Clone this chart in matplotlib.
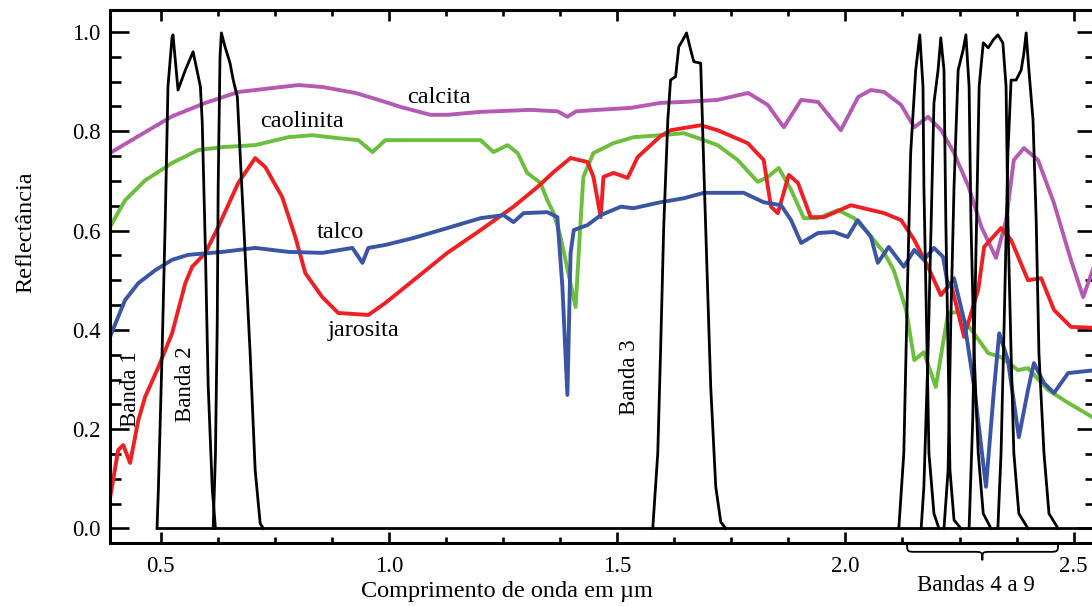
import numpy as np
import matplotlib
matplotlib.use("Agg")
import matplotlib.pyplot as plt
from matplotlib.path import Path
from matplotlib.patches import PathPatch
from matplotlib.ticker import MultipleLocator, AutoMinorLocator, FormatStrFormatter

plt.rcParams['font.family'] = ['Liberation Serif', 'DejaVu Serif']

# spectra (wavelength in um, reflectance)
calcita_x = [0.389, 0.451, 0.525, 0.598, 0.670, 0.745, 0.802, 0.855, 0.927, 0.992, 1.025, 1.091,
             1.128, 1.201, 1.310, 1.370, 1.391, 1.410, 1.457, 1.530, 1.595, 1.646, 1.720, 1.787,
             1.830, 1.865, 1.903, 1.940, 1.990, 2.028, 2.056, 2.085, 2.122, 2.151, 2.181, 2.210,
             2.238, 2.270, 2.298, 2.330, 2.352, 2.369, 2.391, 2.422, 2.457, 2.494, 2.521, 2.549]
calcita_y = [0.756, 0.790, 0.830, 0.857, 0.879, 0.887, 0.893, 0.889, 0.877, 0.859, 0.849, 0.833,
             0.833, 0.839, 0.843, 0.840, 0.829, 0.840, 0.843, 0.847, 0.857, 0.859, 0.863, 0.877,
             0.853, 0.808, 0.863, 0.859, 0.802, 0.869, 0.883, 0.879, 0.853, 0.808, 0.829, 0.802,
             0.756, 0.688, 0.607, 0.545, 0.621, 0.742, 0.766, 0.742, 0.655, 0.541, 0.466, 0.540]

caolinita_x = [0.389, 0.422, 0.466, 0.525, 0.582, 0.635, 0.707, 0.780, 0.832, 0.889, 0.933, 0.964,
               0.992, 1.201, 1.229, 1.260, 1.282, 1.303, 1.332, 1.347, 1.361, 1.376, 1.409, 1.420,
               1.426, 1.448, 1.492, 1.536, 1.595, 1.646, 1.690, 1.720, 1.764, 1.808, 1.830, 1.854,
               1.881, 1.909, 1.940, 1.984, 2.019, 2.050, 2.085, 2.106, 2.133, 2.151, 2.172, 2.198,
               2.225, 2.247, 2.276, 2.313, 2.341, 2.378, 2.400, 2.444, 2.488, 2.549]
caolinita_y = [0.607, 0.661, 0.701, 0.736, 0.762, 0.768, 0.772, 0.788, 0.792, 0.786, 0.782, 0.758,
               0.782, 0.782, 0.758, 0.772, 0.756, 0.716, 0.696, 0.661, 0.635, 0.587, 0.446, 0.621,
               0.708, 0.756, 0.776, 0.788, 0.792, 0.796, 0.782, 0.772, 0.742, 0.698, 0.708, 0.726,
               0.682, 0.625, 0.625, 0.641, 0.625, 0.595, 0.555, 0.520, 0.440, 0.339, 0.355, 0.285,
               0.434, 0.436, 0.400, 0.353, 0.345, 0.319, 0.323, 0.279, 0.253, 0.220]

jarosita_x = [0.389, 0.407, 0.418, 0.433, 0.451, 0.466, 0.495, 0.525, 0.554, 0.569, 0.598, 0.626,
              0.670, 0.707, 0.729, 0.766, 0.795, 0.817, 0.854, 0.889, 0.955, 0.992, 1.054, 1.128,
              1.201, 1.273, 1.326, 1.361, 1.398, 1.435, 1.448, 1.464, 1.470, 1.492, 1.523, 1.545,
              1.595, 1.617, 1.683, 1.720, 1.786, 1.821, 1.837, 1.852, 1.876, 1.896, 1.924, 1.953,
              2.012, 2.085, 2.122, 2.151, 2.181, 2.209, 2.231, 2.260, 2.291, 2.304, 2.341, 2.363,
              2.400, 2.429, 2.457, 2.494, 2.549]
jarosita_y = [0.061, 0.158, 0.168, 0.132, 0.218, 0.265, 0.325, 0.393, 0.494, 0.527, 0.555, 0.607,
              0.696, 0.746, 0.728, 0.668, 0.587, 0.514, 0.466, 0.434, 0.430, 0.454, 0.500, 0.555,
              0.601, 0.648, 0.688, 0.718, 0.746, 0.738, 0.708, 0.627, 0.708, 0.716, 0.706, 0.748,
              0.790, 0.802, 0.812, 0.802, 0.776, 0.742, 0.648, 0.635, 0.712, 0.696, 0.627, 0.627,
              0.651, 0.635, 0.621, 0.581, 0.527, 0.470, 0.494, 0.386, 0.481, 0.567, 0.605, 0.581,
              0.500, 0.504, 0.440, 0.406, 0.404]

talco_x = [0.389, 0.422, 0.451, 0.488, 0.525, 0.560, 0.635, 0.707, 0.780, 0.854, 0.920, 0.942,
           0.955, 0.992, 1.054, 1.128, 1.201, 1.251, 1.273, 1.295, 1.347, 1.369, 1.380, 1.391,
           1.398, 1.405, 1.435, 1.464, 1.508, 1.536, 1.595, 1.646, 1.690, 1.777, 1.821, 1.859,
           1.881, 1.903, 1.940, 1.975, 2.005, 2.027, 2.056, 2.071, 2.095, 2.128, 2.151, 2.172,
           2.194, 2.214, 2.225, 2.238, 2.260, 2.282, 2.308, 2.326, 2.337, 2.356, 2.380, 2.400,
           2.413, 2.435, 2.457, 2.488, 2.549]
talco_y = [0.386, 0.460, 0.494, 0.520, 0.541, 0.551, 0.557, 0.565, 0.557, 0.555, 0.565, 0.535,
           0.565, 0.571, 0.585, 0.605, 0.625, 0.631, 0.617, 0.635, 0.637, 0.627, 0.487, 0.269,
           0.555, 0.601, 0.611, 0.631, 0.648, 0.645, 0.657, 0.665, 0.676, 0.676, 0.657, 0.651,
           0.621, 0.575, 0.595, 0.597, 0.587, 0.621, 0.587, 0.535, 0.567, 0.527, 0.561, 0.541,
           0.565, 0.547, 0.487, 0.504, 0.420, 0.285, 0.084, 0.285, 0.393, 0.339, 0.184, 0.279,
           0.333, 0.293, 0.273, 0.313, 0.319]

# sensor band response curves
band1_x = [0.492, 0.495, 0.503, 0.510, 0.516, 0.525, 0.527, 0.538, 0.554, 0.571, 0.587, 0.591,
           0.598, 0.604, 0.613, 0.620]
band1_y = [0.0, 0.08, 0.35, 0.62, 0.89, 0.99, 0.994, 0.883, 0.923, 0.960, 0.890, 0.82,
           0.56, 0.29, 0.08, 0.0]
band2_x = [0.615, 0.620, 0.624, 0.626, 0.630, 0.633, 0.641, 0.652, 0.659, 0.668, 0.674, 0.685,
           0.696, 0.707, 0.718, 0.725]
band2_y = [0.0, 0.15, 0.42, 0.69, 0.95, 0.998, 0.970, 0.937, 0.903, 0.869, 0.756, 0.555,
           0.353, 0.118, 0.010, 0.0]
band3_x = [1.578, 1.589, 1.595, 1.602, 1.611, 1.617, 1.628, 1.635, 1.644, 1.652, 1.661, 1.668,
           1.683, 1.690, 1.698, 1.705, 1.716, 1.727, 1.738]
band3_y = [0.0, 0.152, 0.353, 0.607, 0.823, 0.903, 0.910, 0.970, 0.984, 0.998, 0.964, 0.940,
           0.937, 0.722, 0.487, 0.285, 0.084, 0.013, 0.0]
band4_x = [2.117, 2.128, 2.136, 2.143, 2.154, 2.163, 2.170, 2.172, 2.179, 2.183, 2.194, 2.205]
band4_y = [0.0, 0.152, 0.487, 0.756, 0.923, 0.994, 0.890, 0.688, 0.353, 0.152, 0.030, 0.0]
band5_x = [2.166, 2.172, 2.181, 2.188, 2.194, 2.203, 2.209, 2.216, 2.220, 2.225, 2.229, 2.238, 2.253]
band5_y = [0.0, 0.085, 0.353, 0.620, 0.857, 0.923, 0.988, 0.923, 0.620, 0.353, 0.118, 0.017, 0.0]
band6_x = [2.216, 2.225, 2.231, 2.238, 2.247, 2.258, 2.264, 2.271, 2.275, 2.282, 2.291, 2.302, 2.319]
band6_y = [0.0, 0.118, 0.420, 0.688, 0.923, 0.964, 0.994, 0.890, 0.620, 0.353, 0.152, 0.030, 0.0]
band7_x = [2.271, 2.279, 2.286, 2.293, 2.302, 2.313, 2.324, 2.334, 2.345, 2.352, 2.356, 2.363,
           2.369, 2.380, 2.400]
band7_y = [0.0, 0.220, 0.555, 0.890, 0.978, 0.968, 0.984, 0.994, 0.978, 0.890, 0.620, 0.353,
           0.152, 0.030, 0.0]
band8_x = [2.334, 2.341, 2.348, 2.356, 2.363, 2.374, 2.385, 2.391, 2.396, 2.402, 2.411, 2.418,
           2.424, 2.435, 2.446, 2.466]
band8_y = [0.0, 0.152, 0.420, 0.756, 0.903, 0.903, 0.923, 0.957, 0.998, 0.923, 0.823, 0.620,
           0.353, 0.152, 0.030, 0.0]

bands = [(band1_x, band1_y), (band2_x, band2_y), (band3_x, band3_y), (band4_x, band4_y),
         (band5_x, band5_y), (band6_x, band6_y), (band7_x, band7_y), (band8_x, band8_y)]

spectra = [
    (calcita_x, calcita_y, '#b45ab4'),
    (caolinita_x, caolinita_y, '#6cbf3c'),
    (jarosita_x, jarosita_y, '#ee2024'),
    (talco_x, talco_y, '#3a55a6'),
]

fig = plt.figure(figsize=(10.92, 6.06), dpi=100)
ax = fig.add_axes([110 / 1092, 1 - 543 / 606, (1096 - 110) / 1092, (543 - 10) / 606])

for xs, ys, c in spectra:
    ax.plot(xs, ys, color=c, lw=2.8, zorder=2, solid_joinstyle='round')

for bx, by in bands:
    ax.plot(bx, by, color='black', lw=2.0, zorder=3)
# common zero line of the band responses
ax.plot([band1_x[0], 2.549], [0, 0], color='black', lw=2.0, zorder=3)

ax.set_xlim(0.389, 2.549)
ax.set_ylim(-0.0292, 1.0441)

ax.xaxis.set_major_locator(MultipleLocator(0.5))
ax.xaxis.set_minor_locator(AutoMinorLocator(4))
ax.yaxis.set_major_locator(MultipleLocator(0.2))
ax.yaxis.set_minor_locator(AutoMinorLocator(4))
ax.xaxis.set_major_formatter(FormatStrFormatter('%.1f'))
ax.yaxis.set_major_formatter(FormatStrFormatter('%.1f'))

ax.tick_params(which='both', direction='in', top=True, right=True, width=1.9, labelsize=16.5)
ax.tick_params(axis='y', which='major', length=14, pad=7)
ax.tick_params(axis='y', which='minor', length=8)
ax.tick_params(axis='x', which='major', length=8, pad=9)
ax.tick_params(axis='x', which='minor', length=4)
for s in ax.spines.values():
    s.set_linewidth(2.2)

# curve names
fs = 17.5
ax.text(1.109, 0.857, 'calcita', fontsize=fs, ha='center', va='baseline')
ax.text(0.810, 0.809, 'caolinita', fontsize=fs, ha='center', va='baseline')
ax.text(0.894, 0.585, 'talco', fontsize=fs, ha='center', va='baseline')
ax.text(0.944, 0.388, 'jarosita', fontsize=fs, ha='center', va='baseline')

# band names
ax.text(0.433, 0.28, 'Banda 1', fontsize=16.5, rotation=90, ha='center', va='center')
ax.text(0.554, 0.291, 'Banda 2', fontsize=16.5, rotation=90, ha='center', va='center')
ax.text(1.527, 0.305, 'Banda 3', fontsize=16.5, rotation=90, ha='center', va='center')
ax.text(2.286, -0.114, 'Bandas 4 a 9', fontsize=16.5, ha='center', va='center', clip_on=False)

# brace under bands 4-9
x0, xm, x1 = 2.135, 2.300, 2.466
ytop, ymid, ytip = -0.027, -0.047, -0.064
r = 0.02
verts = [(x0, ytop), (x0, ymid), (x0, ymid), (x0 + r, ymid),
         (xm - r, ymid),
         (xm, ymid), (xm, ymid), (xm, ytip),
         (xm, ymid), (xm, ymid), (xm + r, ymid),
         (x1 - r, ymid),
         (x1, ymid), (x1, ymid), (x1, ytop)]
codes = [Path.MOVETO, Path.CURVE4, Path.CURVE4, Path.CURVE4,
         Path.LINETO,
         Path.CURVE4, Path.CURVE4, Path.CURVE4,
         Path.CURVE4, Path.CURVE4, Path.CURVE4,
         Path.LINETO,
         Path.CURVE4, Path.CURVE4, Path.CURVE4]
ax.add_patch(PathPatch(Path(verts, codes), fill=False, lw=1.3, color='black', clip_on=False))

fig.text(507 / 1092, 1 - 591 / 606, 'Comprimento de onda em µm', fontsize=17.5, ha='center', va='center')
fig.text(26 / 1092, 1 - 232 / 606, 'Reflectância', fontsize=17.5, rotation=90, ha='center', va='center')

fig.savefig('out.png', dpi=100)
